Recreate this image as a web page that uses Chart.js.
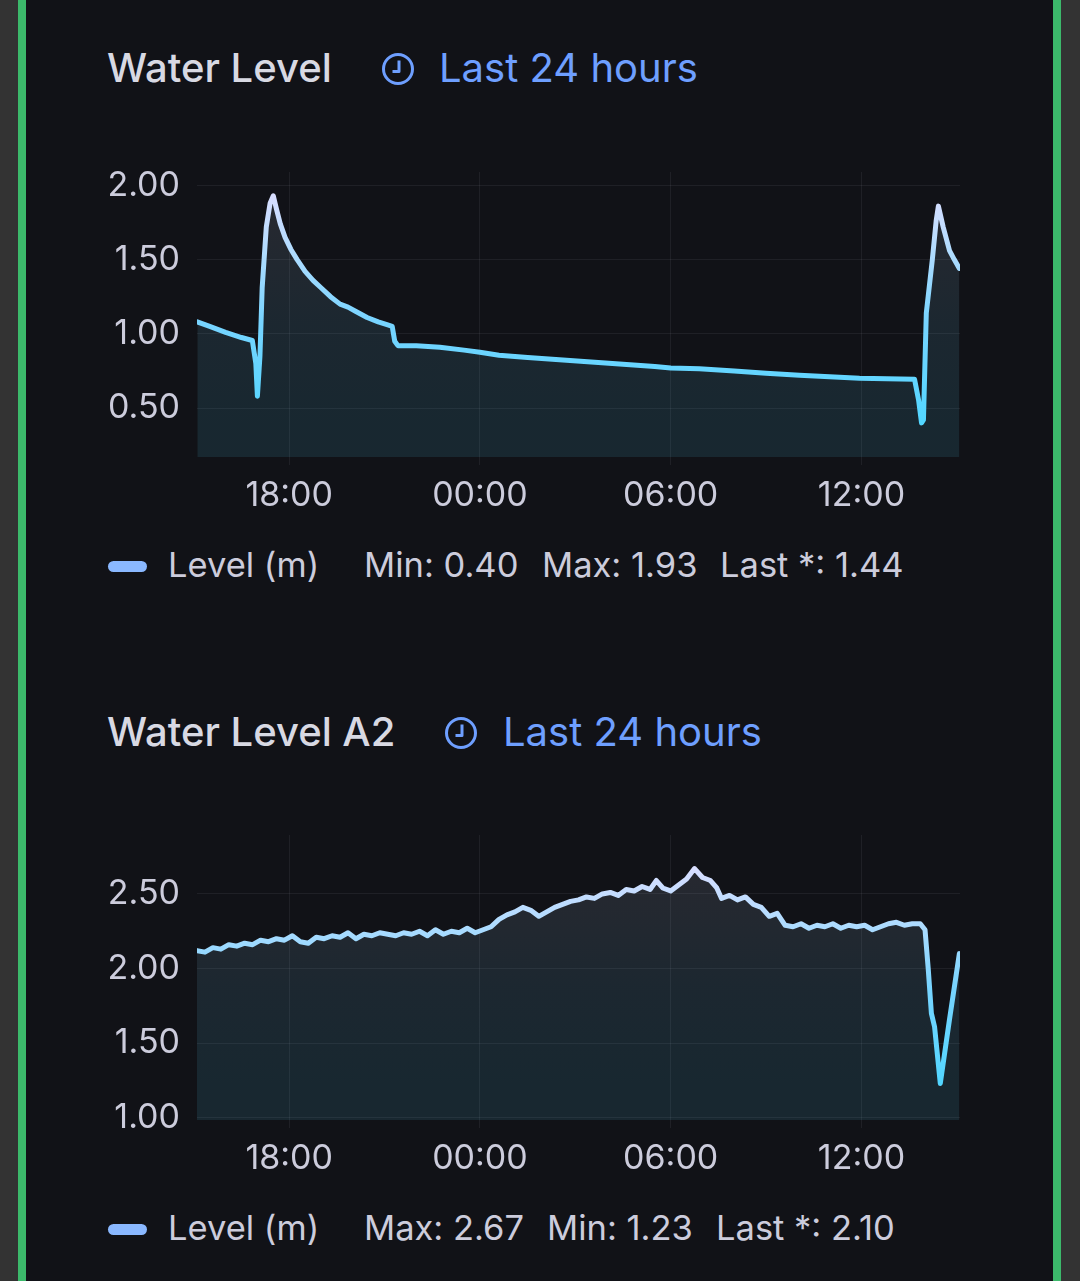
<!DOCTYPE html>
<html>
<head>
<meta charset="utf-8">
<script src="https://cdn.jsdelivr.net/npm/chart.js@4.4.1/dist/chart.umd.min.js"></script>
<style>
  html, body { margin: 0; padding: 0; background: #111217; }
  body { width: 1080px; height: 1281px; position: relative; overflow: hidden; font-family: Inter, "Noto Sans", sans-serif; }
  .edge { position: absolute; top: 0; height: 1281px; }
  .txt { position: absolute; white-space: nowrap; }
  .title { font-size: 40px; line-height: 40px; font-weight: 500; color: #d8d9e3; }
  .range { font-size: 40px; line-height: 40px; color: #6e9fff; }
  .legend { font-size: 34.5px; line-height: 34px; color: #ccccdc; }
  .swatch { position: absolute; width: 39px; height: 11px; border-radius: 6px; background: #8ab8ff; }
  canvas { position: absolute; left: 0; }
  svg { position: absolute; }
</style>
</head>
<body>
<div class="edge" style="left:0;width:18px;background:#333333"></div>
<div class="edge" style="left:18px;width:8px;background:#3cb96b"></div>
<div class="edge" style="left:1053px;width:8px;background:#3cb96b"></div>
<div class="edge" style="left:1061px;width:19px;background:#333333"></div>

<!-- panel 1 -->
<div class="txt title" style="left:107px;top:48px">Water Level</div>
<svg style="left:380px;top:51px" width="36" height="36" viewBox="0 0 36 36">
  <circle cx="18" cy="18" r="14.5" fill="none" stroke="#6e9fff" stroke-width="3"/>
  <path d="M19 9.5 V20.5 H12.5" fill="none" stroke="#6e9fff" stroke-width="3" stroke-linejoin="round"/>
</svg>
<div class="txt range" style="left:439px;top:48px">Last 24 hours</div>
<canvas id="c1" width="1080" height="370" style="top:150px"></canvas>
<div class="swatch" style="left:108px;top:561px"></div>
<div class="txt legend" id="l1name" style="left:168px;top:548px"></div>
<div class="txt legend" id="l1a" style="left:364px;top:548px"></div>
<div class="txt legend" id="l1b" style="left:542px;top:548px"></div>
<div class="txt legend" id="l1c" style="left:720px;top:548px"></div>

<!-- panel 2 -->
<div class="txt title" style="left:107px;top:712px">Water Level A2</div>
<svg style="left:443px;top:715px" width="36" height="36" viewBox="0 0 36 36">
  <circle cx="18" cy="18" r="14.5" fill="none" stroke="#6e9fff" stroke-width="3"/>
  <path d="M19 9.5 V20.5 H12.5" fill="none" stroke="#6e9fff" stroke-width="3" stroke-linejoin="round"/>
</svg>
<div class="txt range" style="left:503px;top:712px">Last 24 hours</div>
<canvas id="c2" width="1080" height="370" style="top:813px"></canvas>
<div class="swatch" style="left:108px;top:1224px"></div>
<div class="txt legend" id="l2name" style="left:168px;top:1211px"></div>
<div class="txt legend" id="l2a" style="left:364px;top:1211px"></div>
<div class="txt legend" id="l2b" style="left:547px;top:1211px"></div>
<div class="txt legend" id="l2c" style="left:716px;top:1211px"></div>

<script>
// hours since midnight of the first day (24 = 00:00 next day)
const levelHours = [15.11, 15.5, 16.0, 16.5, 16.84, 16.95, 17.0, 17.08, 17.15, 17.28, 17.4, 17.5,
  17.6, 17.72, 17.87, 18.05, 18.25, 18.5, 18.75, 19.0, 19.3, 19.6, 19.85, 20.1, 20.45, 20.8, 21.1, 21.24,
  21.32, 21.42, 22.0, 22.74, 23.5, 24.0, 24.6, 25.5, 26.5, 27.5, 28.5, 29.5, 30.0, 30.9, 32.0, 33.0,
  34.05, 35.0, 35.94, 36.8, 37.67, 37.8, 37.89, 37.95, 38.04, 38.23, 38.35, 38.42, 38.57, 38.77, 38.92, 39.08];
const levelValues = [1.08, 1.05, 1.01, 0.975, 0.955, 0.80, 0.58, 0.85, 1.31, 1.72, 1.88, 1.93,
  1.84, 1.74, 1.65, 1.57, 1.50, 1.42, 1.36, 1.31, 1.25, 1.20, 1.18, 1.15, 1.11, 1.08, 1.06, 1.05,
  0.95, 0.92, 0.92, 0.91, 0.89, 0.876, 0.856, 0.84, 0.825, 0.81, 0.795, 0.78, 0.77, 0.765, 0.75, 0.735,
  0.72, 0.71, 0.70, 0.697, 0.694, 0.55, 0.40, 0.42, 1.14, 1.50, 1.76, 1.86, 1.72, 1.56, 1.50, 1.44];

const levelA2Hours = [15.10, 15.35, 15.60, 15.85, 16.10, 16.35, 16.60, 16.85, 17.10, 17.35, 17.60, 17.85,
  18.10, 18.35, 18.60, 18.85, 19.10, 19.35, 19.60, 19.85, 20.10, 20.35, 20.60, 20.85, 21.10, 21.35, 21.60,
  21.85, 22.10, 22.35, 22.60, 22.85, 23.10, 23.35, 23.60, 23.85, 24.10, 24.35, 24.60, 24.85, 25.10, 25.35,
  25.60, 25.85, 26.10, 26.35, 26.60, 26.85, 27.10, 27.35, 27.60, 27.85, 28.10, 28.35, 28.60, 28.85, 29.10,
  29.35, 29.55, 29.75, 30.00, 30.25, 30.50, 30.75, 31.00, 31.25, 31.45, 31.60, 31.85, 32.10, 32.35, 32.60,
  32.85, 33.10, 33.35, 33.60, 33.85, 34.10, 34.35, 34.60, 34.85, 35.10, 35.35, 35.60, 35.85, 36.10, 36.35,
  36.60, 36.85, 37.10, 37.35, 37.60, 37.85, 38.00, 38.10, 38.20, 38.30, 38.48, 38.77, 39.08];
const levelA2Values = [2.12, 2.11, 2.14, 2.13, 2.16, 2.15, 2.17, 2.16, 2.19, 2.18, 2.20, 2.19,
  2.22, 2.18, 2.17, 2.21, 2.20, 2.22, 2.21, 2.24, 2.20, 2.23, 2.22, 2.24, 2.23, 2.22, 2.24,
  2.23, 2.25, 2.22, 2.26, 2.23, 2.25, 2.24, 2.27, 2.24, 2.26, 2.28, 2.33, 2.36, 2.38, 2.41,
  2.39, 2.35, 2.38, 2.41, 2.43, 2.45, 2.46, 2.48, 2.47, 2.50, 2.51, 2.49, 2.53, 2.52, 2.55,
  2.53, 2.59, 2.54, 2.52, 2.56, 2.60, 2.67, 2.61, 2.59, 2.54, 2.47, 2.49, 2.46, 2.48, 2.43,
  2.41, 2.35, 2.37, 2.29, 2.28, 2.30, 2.27, 2.29, 2.28, 2.30, 2.27, 2.29, 2.28, 2.29, 2.26,
  2.28, 2.30, 2.31, 2.29, 2.30, 2.30, 2.26, 2.00, 1.70, 1.61, 1.23, 1.66, 2.10];

const timeTicks = [18, 24, 30, 36];
const levelTicks = [0.5, 1.0, 1.5, 2.0];
const levelA2Ticks = [1.0, 1.5, 2.0, 2.5];

const seriesName = 'Level (m)';
const gridColor = 'rgba(204, 204, 220, 0.08)';
const tickColor = '#ccccdc';

// colour ramp from low (cyan) to high (pale lavender)
const rampStops = [
  [0, [82, 214, 255]],
  [0.45, [120, 212, 255]],
  [0.75, [176, 220, 255]],
  [1, [216, 222, 255]]
];

function rampGradient(chart, values, alpha) {
  const { ctx, chartArea, scales } = chart;
  if (!chartArea) return null;
  const yTop = scales.y.getPixelForValue(Math.max(...values));
  const yBot = scales.y.getPixelForValue(Math.min(...values));
  const g = ctx.createLinearGradient(0, yBot, 0, yTop);
  rampStops.forEach(([p, c]) => g.addColorStop(p, `rgba(${c[0]}, ${c[1]}, ${c[2]}, ${alpha})`));
  return g;
}

function fmtHour(v) {
  const h = ((v % 24) + 24) % 24;
  return String(h).padStart(2, '0') + ':00';
}

function makeChart(id, hours, values, yMin, yMax, yTicks) {
  const points = hours.map((h, i) => ({ x: h, y: values[i] }));
  return new Chart(document.getElementById(id), {
    type: 'line',
    data: {
      datasets: [{
        label: seriesName,
        data: points,
        borderWidth: 5,
        borderJoinStyle: 'round',
        borderCapStyle: 'round',
        pointRadius: 0,
        tension: 0,
        fill: 'start',
        borderColor: (c) => rampGradient(c.chart, values, 1) || '#6fd6ff',
        backgroundColor: (c) => rampGradient(c.chart, values, 0.11) || 'rgba(111,214,255,0.1)'
      }]
    },
    options: {
      responsive: false,
      animation: false,
      devicePixelRatio: 1,
      layout: { padding: { top: 22, right: 120, left: 0, bottom: 0 } },
      plugins: { legend: { display: false }, tooltip: { enabled: false } },
      scales: {
        x: {
          type: 'linear',
          min: 15.1,
          max: 39.1,
          afterBuildTicks: (s) => { s.ticks = timeTicks.map(v => ({ value: v })); },
          afterFit: (s) => { s.height = 63; s.paddingLeft = 0; s.paddingRight = 0; },
          ticks: {
            color: tickColor,
            font: { family: 'Inter', size: 34 },
            padding: 10,
            maxRotation: 0,
            callback: (v) => fmtHour(v)
          },
          grid: { color: gridColor, lineWidth: 1, drawTicks: true, tickLength: 8, tickColor: gridColor },
          border: { display: false }
        },
        y: {
          min: yMin,
          max: yMax,
          afterBuildTicks: (s) => { s.ticks = yTicks.map(v => ({ value: v })); },
          afterFit: (s) => { s.width = 197; s.paddingTop = 0; s.paddingBottom = 0; },
          ticks: {
            color: tickColor,
            font: { family: 'Inter', size: 34 },
            padding: 17,
            callback: (v) => v.toFixed(2)
          },
          grid: { color: gridColor, lineWidth: 1, drawTicks: false },
          border: { display: false }
        }
      }
    }
  });
}

function setLegend(prefix, values, order) {
  const stats = {
    Min: Math.min(...values),
    Max: Math.max(...values),
    'Last *': values[values.length - 1]
  };
  document.getElementById(prefix + 'name').textContent = seriesName;
  ['a', 'b', 'c'].forEach((k, i) => {
    document.getElementById(prefix + k).textContent = order[i] + ': ' + stats[order[i]].toFixed(2);
  });
}

makeChart('c1', levelHours, levelValues, 0.17, 2.09, levelTicks);
makeChart('c2', levelA2Hours, levelA2Values, 0.985, 2.895, levelA2Ticks);
setLegend('l1', levelValues, ['Min', 'Max', 'Last *']);
setLegend('l2', levelA2Values, ['Max', 'Min', 'Last *']);
</script>
</body>
</html>
